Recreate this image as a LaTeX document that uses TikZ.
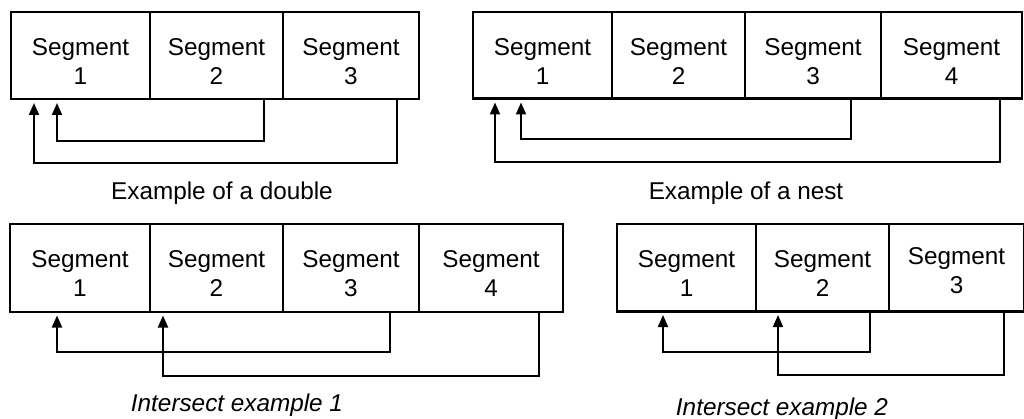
\documentclass[tikz,border=0pt]{standalone}
\usepackage{fontspec}
\setmainfont{Liberation Sans}
\usetikzlibrary{arrows.meta}
\begin{document}
\begin{tikzpicture}[x=1pt,y=-1pt,
  cell/.style={draw, line width=2.1pt, outer sep=0pt, inner sep=0pt, minimum height=87pt, anchor=north west},
  segtext/.style={align=center, yshift=-6pt, inner sep=0pt, font=\fontsize{24.3}{29}\selectfont},
  conn/.style={line width=2pt, line join=miter, -{Triangle[length=12pt,width=10pt]}},
  caption/.style={anchor=base, inner sep=0pt, font=\fontsize{24.3}{28}\selectfont},
  icaption/.style={caption, font=\fontsize{24.3}{28}\selectfont\itshape}]
\useasboundingbox (0,0) rectangle (1024,419);

% ---- Example of a double ----
\node[cell, minimum width=139pt, label={[segtext]center:Segment\\1}] (a1) at (11,12) {};
\node[cell, minimum width=133pt, label={[segtext]center:Segment\\2}] (a2) at (150,12) {};
\node[cell, minimum width=136pt, label={[segtext]center:Segment\\3}] (a3) at (283,12) {};
\draw[conn] ([xshift=114pt]a2.south west) -- ++(0,42) -| ([xshift=46pt,yshift=-4pt]a1.south west);
\draw[conn] ([xshift=114pt]a3.south west) -- ++(0,64) -| ([xshift=23pt,yshift=-4pt]a1.south west);
\node[caption] (capa) at (222,200) {Example of a double};

% ---- Example of a nest ----
\node[cell, minimum width=139pt, minimum height=86.5pt, label={[segtext]center:Segment\\1}] (b1) at (473,12) {};
\node[cell, minimum width=133pt, minimum height=86.5pt, label={[segtext]center:Segment\\2}] (b2) at (612,12) {};
\node[cell, minimum width=136pt, minimum height=86.5pt, label={[segtext]center:Segment\\3}] (b3) at (745,12) {};
\node[cell, minimum width=141pt, minimum height=86.5pt, label={[segtext]center:Segment\\4}] (b4) at (881,12) {};
\draw[conn] ([xshift=106pt]b3.south west) -- ++(0,40.5) -| ([xshift=48pt,yshift=-4pt]b1.south west);
\draw[conn] ([xshift=119pt]b4.south west) -- ++(0,63.5) -| ([xshift=22pt,yshift=-4pt]b1.south west);
\node[caption] (capb) at (746,200) {Example of a nest};

% ---- Intersect example 1 ----
\node[cell, minimum width=140pt, minimum height=88pt, label={[segtext]center:Segment\\1}] (c1) at (10,224) {};
\node[cell, minimum width=133pt, minimum height=88pt, label={[segtext]center:Segment\\2}] (c2) at (150,224) {};
\node[cell, minimum width=136pt, minimum height=88pt, label={[segtext]center:Segment\\3}] (c3) at (283,224) {};
\node[cell, minimum width=144pt, minimum height=88pt, label={[segtext]center:Segment\\4}] (c4) at (419,224) {};
\draw[conn] ([xshift=107pt]c3.south west) -- ++(0,40) -| ([xshift=47pt,yshift=-3.5pt]c1.south west);
\draw[conn] ([xshift=120pt]c4.south west) -- ++(0,64) -| ([xshift=13pt,yshift=-3.5pt]c2.south west);
\node[icaption] (capc) at (237,411) {Intersect example 1};

% ---- Intersect example 2 ----
\node[cell, minimum width=139pt, minimum height=87.5pt, label={[segtext]center:Segment\\1}] (d1) at (617,224) {};
\node[cell, minimum width=133pt, minimum height=87.5pt, label={[segtext]center:Segment\\2}] (d2) at (756,224) {};
\node[cell, minimum width=135pt, minimum height=87.5pt, label={[segtext,yshift=3pt]center:Segment\\3}] (d3) at (889,224) {};
\draw[conn] ([xshift=114pt]d2.south west) -- ++(0,40.5) -| ([xshift=46pt,yshift=-3.5pt]d1.south west);
\draw[conn] ([xshift=115pt]d3.south west) -- ++(0,63.5) -| ([xshift=22pt,yshift=-3.5pt]d2.south west);
\node[icaption] (capd) at (782,415) {Intersect example 2};
\end{tikzpicture}
\end{document}
